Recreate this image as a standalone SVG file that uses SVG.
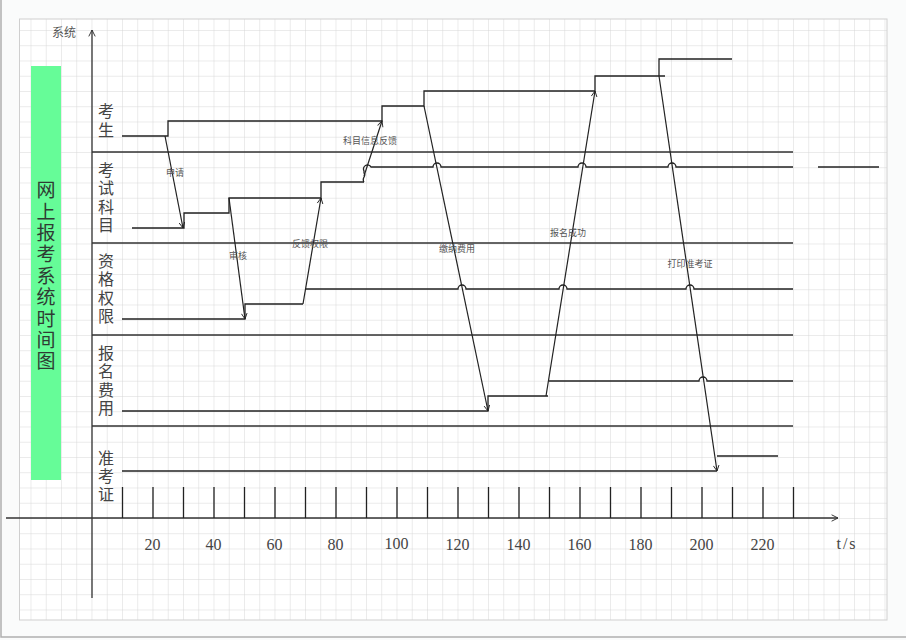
<svg xmlns="http://www.w3.org/2000/svg" width="906" height="640" viewBox="0 0 906 640">
<defs>
<pattern id="grid" x="30.5" y="30" width="15.25" height="15.25" patternUnits="userSpaceOnUse">
<path d="M0,0 H15.25 M0,0 V15.25" fill="none" stroke="#d6d6d6" stroke-width="1"/>
</pattern>
<marker id="arr" viewBox="0 0 10 10" refX="9" refY="5" markerWidth="7" markerHeight="7" markerUnits="userSpaceOnUse" orient="auto">
<path d="M1,1 L9,5 L1,9" fill="none" stroke="#222" stroke-width="1.3"/>
</marker>
<marker id="axarr" viewBox="0 0 10 10" refX="9" refY="5" markerWidth="8" markerHeight="8" markerUnits="userSpaceOnUse" orient="auto">
<path d="M1,1 L9,5 L1,9" fill="none" stroke="#333" stroke-width="1.2"/>
</marker>
</defs>
<style>
.lane{fill:none;stroke:#222;stroke-width:1.3}
.sep{fill:none;stroke:#333;stroke-width:1.3}
.msg{fill:none;stroke:#222;stroke-width:1.2;marker-end:url(#arr)}
.axis{fill:none;stroke:#333;stroke-width:1.3}
.tick{stroke:#222;stroke-width:1.3}
.lbl{font-family:"Noto Sans CJK SC",sans-serif;font-size:9px;fill:#555;text-anchor:middle}
.lanet{font-family:"Noto Sans CJK SC",sans-serif;font-size:16px;fill:#444;writing-mode:vertical-rl;letter-spacing:2.3px}
.num{font-family:"Liberation Serif",serif;font-size:16px;fill:#444;text-anchor:middle}
.title{font-family:"Noto Sans CJK SC",sans-serif;font-size:19px;fill:#2f3b33;writing-mode:vertical-rl;letter-spacing:2.4px}
</style>
<rect x="0" y="0" width="906" height="640" fill="#fafbfb"/>
<path d="M1,0 V637 H906" fill="none" stroke="#b0b0b0" stroke-width="1.5"/>
<rect x="19.5" y="19" width="867.5" height="601" fill="#ffffff"/>
<rect x="19.5" y="19" width="867.5" height="601" fill="url(#grid)" stroke="#cfcfcf" stroke-width="1"/>

<g id="title">
<rect x="31" y="66" width="30" height="414" fill="#66fc98"/>
<text class="title" x="46" y="180.5">网上报考系统时间图</text>
</g>

<g id="axes">
<path class="axis" d="M92,598 V30" marker-end="url(#axarr)"/>
<path class="axis" d="M6,518 H838" marker-end="url(#axarr)"/>
<text x="76" y="37" font-family="Noto Sans CJK SC, sans-serif" font-size="12" fill="#555" text-anchor="end">系统</text>
<g id="ticks">
<path class="tick" d="M122.5,487V518 M153,487V518 M183.5,487V518 M214,487V518 M244.5,487V518 M275,487V518 M305.5,487V518 M336,487V518 M366.5,487V518 M397,487V518 M427.5,487V518 M458,487V518 M488.5,487V518 M519,487V518 M549.5,487V518 M580,487V518 M610.5,487V518 M641,487V518 M671.5,487V518 M702,487V518 M732.5,487V518 M763,487V518 M793.5,487V518"/>
</g>
<text class="num" x="152.5" y="550">20</text>
<text class="num" x="213.5" y="550">40</text>
<text class="num" x="274.5" y="550">60</text>
<text class="num" x="335.5" y="550">80</text>
<text class="num" x="396.5" y="549">100</text>
<text class="num" x="457.5" y="550">120</text>
<text class="num" x="518.5" y="550">140</text>
<text class="num" x="579.5" y="550">160</text>
<text class="num" x="640.5" y="550">180</text>
<text class="num" x="701.5" y="550">200</text>
<text class="num" x="762.5" y="550">220</text>
<text class="num" x="847" y="549" font-size="17" letter-spacing="2">t/s</text>
</g>

<g id="lane-kaosheng">
<text class="lanet" x="106" y="103" style="letter-spacing:3px">考生</text>
</g>
<g id="lane-kemu">
<text class="lanet" x="106" y="162">考试科目</text>
</g>
<g id="lane-zige">
<text class="lanet" x="106" y="253">资格权限</text>
</g>
<g id="lane-feiyong">
<text class="lanet" x="106" y="345">报名费用</text>
</g>
<g id="lane-zhunkaozheng">
<text class="lanet" x="106" y="450" style="letter-spacing:2px">准考证</text>
</g>

<g id="separators">
<path class="sep" d="M92,152 H793 M92,243 H793 M92,335 H793 M92,426 H793"/>
</g>

<g id="timelines">
<path class="lane" d="M122,136 H168 V121 H382 V106 H424 V91 H595 V76 H665"/>
<path class="lane" d="M659,76 V59 H732"/>
<path class="lane" d="M132,228 H184 V213 H229 V198 H321 V182 H364"/>
<path class="lane" d="M364,182 C361,178 367,176 364,173 L364,171 A3.5,3.5 0 0 1 371,167 H433 A4,4 0 0 1 441,167 H578 A4,4 0 0 1 586,167 H668 A4,4 0 0 1 676,167 H793"/>
<path class="lane" d="M818,167 H879"/>
<path class="lane" d="M122,319 H245 V304 H303"/>
<path class="lane" d="M305,289 H458 A4,4 0 0 1 466,289 H559 A4,4 0 0 1 567,289 H686 A4,4 0 0 1 694,289 H793"/>
<path class="lane" d="M122,411 H488 V396 H548"/>
<path class="lane" d="M549,381 H699 A4,4 0 0 1 707,381 H793"/>
<path class="lane" d="M122,471 H717"/>
<path class="lane" d="M717,456 H778"/>
</g>

<g id="connectors">
<path class="msg" d="M165,136 L183,228"/>
<path class="msg" d="M229,198 L245,319"/>
<path class="msg" d="M303,304 L321,198"/>
<path class="msg" d="M364,176 L382,121"/>
<path class="msg" d="M424,106 L488,411"/>
<path class="msg" d="M546,396 L595,91"/>
<path class="msg" d="M659,76 L717,471"/>
</g>

<g id="labels">
<text class="lbl" x="175" y="176">申请</text>
<text class="lbl" x="238" y="259">审核</text>
<text class="lbl" x="310" y="247">反馈权限</text>
<text class="lbl" x="370" y="144">科目信息反馈</text>
<text class="lbl" x="457" y="252">缴纳费用</text>
<text class="lbl" x="568" y="236">报名成功</text>
<text class="lbl" x="690" y="267">打印准考证</text>
</g>
</svg>
